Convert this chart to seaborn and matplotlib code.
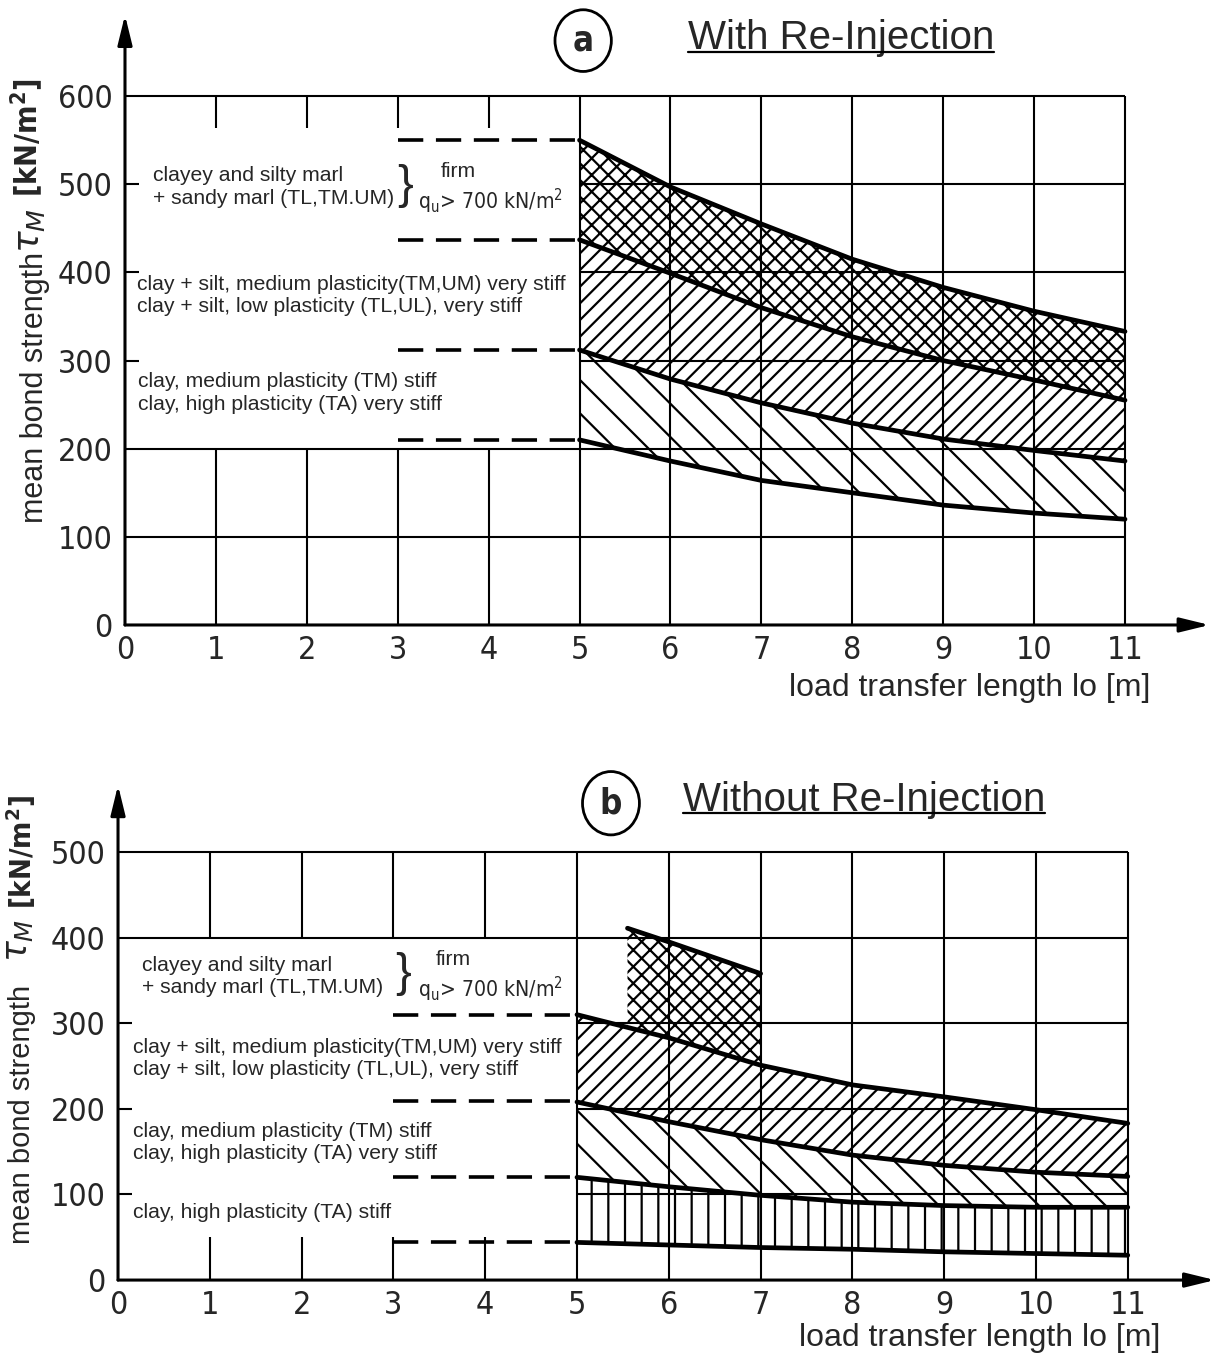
import pandas as pd
import matplotlib
matplotlib.use("Agg")
import matplotlib.pyplot as plt
from matplotlib import font_manager
from matplotlib.font_manager import FontProperties
from matplotlib.patches import Ellipse
from matplotlib.lines import Line2D
import seaborn as sns

# load transfer length lo [m]
lengths = [5, 6, 7, 8, 9, 10, 11]
x_ticks = list(range(12))

# (a) with re-injection, mean bond strength [kN/m2]
a_y_ticks = [0, 100, 200, 300, 400, 500, 600]
a_firm_top = [550, 497, 455, 415, 383, 356, 333]
a_firm_low = [437, 399, 360, 327, 300, 278, 255]
a_stiff_low = [312, 279, 252, 229, 211, 198, 186]
a_clay_low = [210, 186, 164, 150, 136, 127, 120]
a_levels = [550, 437, 312, 210]

# (b) without re-injection
b_y_ticks = [0, 100, 200, 300, 400, 500]
b_firm_lengths = [5.55, 6, 7]
b_firm_top = [411, 395, 358]
b_firm_low = [296, 283, 251]
b_stiff_top = [310, 283, 251, 228, 214, 199, 183]
b_stiff_low = [208, 185, 164, 146, 134, 126, 121]
b_clay_low = [120, 109, 99, 91, 87, 85, 85]
b_soft_low = [44, 41, 38, 36, 33, 31, 29]
b_levels = [310, 209, 120, 44]

marl_text = ["clayey and silty marl", "+ sandy marl (TL,TM.UM)"]
silt_text = ["clay + silt, medium plasticity(TM,UM) very stiff",
             "clay + silt, low plasticity (TL,UL), very stiff"]
clay_text = ["clay, medium plasticity (TM) stiff",
             "clay, high plasticity (TA) very stiff"]
soft_text = "clay, high plasticity (TA) stiff"
firm_text = "firm"
qu_text = r"q$_\mathregular{u}$> 700 kN/m$^\mathregular{2}$"
x_label = "load transfer length lo [m]"

sns.set_style("white")
plt.rcParams["font.family"] = ["Liberation Sans", "DejaVu Sans"]
plt.rcParams["mathtext.fontset"] = "dejavusans"
plt.rcParams["hatch.linewidth"] = 0.8
plt.rcParams["hatch.color"] = "black"


def find_narrow(bold=False):
    """look for a condensed face for the DIN-like digits"""
    wanted = (700, "bold") if bold else (400, "normal", "regular", "book")
    for f in font_manager.fontManager.ttflist:
        tag = f.name + " " + str(f.stretch) + " " + f.fname
        if ("Narrow" in tag or "ondensed" in tag) and f.style == "normal" \
                and f.weight in wanted:
            return f.fname
    return None


narrow_file = find_narrow()
narrow_bold_file = find_narrow(bold=True) or narrow_file
TICK = 11.5 if narrow_file else 9.5


def narrow(size, bold=False):
    path = narrow_bold_file if bold else narrow_file
    if path:
        fp = FontProperties(fname=path)
    else:
        fp = FontProperties(family="DejaVu Sans",
                            weight="bold" if bold else "normal")
    fp.set_size(size)
    return fp


BODY = 7.6
GRID = 0.75
CURVE = 1.7
DASH = (0, (7, 3.5))

fig = plt.figure(figsize=(6.115, 6.78), dpi=200)
ax_a = fig.add_axes([0.1022, 0.5391, 0.892, 0.455])
ax_b = fig.add_axes([0.0965, 0.0560, 0.9007, 0.3788])


def curves(ax, named):
    df = pd.concat([pd.DataFrame({"length": xs, "tau": ys, "curve": k})
                    for k, (xs, ys) in named.items()])
    sns.lineplot(data=df, x="length", y="tau", units="curve", estimator=None,
                 color="black", lw=CURVE, ax=ax, legend=False, zorder=4)


def hatched(ax, xs, low, high, pattern):
    ax.fill_between(xs, low, high, facecolor="none", edgecolor="black",
                    hatch=pattern, lw=0, zorder=2)


def axes_arrows(ax, x_end, y_end):
    style = dict(arrowstyle="-|>,head_length=0.9,head_width=0.22", color="black",
                 lw=1.1, shrinkA=0, shrinkB=0)
    ax.annotate("", xy=(x_end, 0), xytext=(0, 0), arrowprops=style,
                annotation_clip=False, zorder=5)
    ax.annotate("", xy=(0, y_end), xytext=(0, 0), arrowprops=style,
                annotation_clip=False, zorder=5)


def ticks(ax, y_ticks, ylim):
    ax.set_xlim(0, 12)
    ax.set_ylim(*ylim)
    ax.set_xticks(x_ticks)
    ax.set_yticks(y_ticks)
    ax.set_xlabel("")
    ax.set_ylabel("")
    sns.despine(ax=ax, left=True, bottom=True, top=True, right=True)
    ax.tick_params(axis="both", length=0)
    ax.tick_params(axis="x", pad=3.5)
    ax.tick_params(axis="y", pad=4.5)
    for lbl in ax.get_xticklabels() + ax.get_yticklabels():
        lbl.set_fontproperties(narrow(TICK))


def header(ax, cx, cy, w, h, letter, tx, ty, title):
    ax.add_patch(Ellipse((cx, cy), w, h, fill=False, color="black", lw=1.0,
                         clip_on=False))
    ax.text(cx, cy, letter, ha="center", va="center",
            fontproperties=narrow(TICK + 1, bold=True))
    return ax.text(tx, ty, title, ha="left", va="center", fontsize=14.5)


def ylabel(ax, xs, ys, size):
    ax.text(xs[0], ys[0], "mean bond strength", rotation=90, ha="center",
            va="center", fontsize=size)
    ax.text(xs[1], ys[1], r"$\tau_M$", rotation=90, ha="center", va="center",
            fontsize=size + 2)
    ax.text(xs[2], ys[2], r"[kN/m$^\mathregular{2}$]", rotation=90,
            ha="center", va="center", fontproperties=narrow(size, bold=True))


# ---------------- (a) with re-injection ----------------
ax = ax_a
ax.hlines([100, 200, 600], 0, 11, colors="black", lw=GRID, zorder=1)
ax.hlines([300, 400, 500], 5, 11, colors="black", lw=GRID, zorder=1)
ax.hlines([300, 400, 500], 0, 0.15, colors="black", lw=GRID, zorder=1)
ax.vlines(x_ticks[1:5], 0, 200, colors="black", lw=GRID, zorder=1)
ax.vlines(x_ticks[1:5], 564, 600, colors="black", lw=GRID, zorder=1)
ax.vlines(x_ticks[5:], 0, 600, colors="black", lw=GRID, zorder=1)
ax.hlines(a_levels, 3, 5, colors="black", lw=1.3, linestyles=DASH, zorder=3)

hatched(ax, lengths, a_firm_low, a_firm_top, "xxxx")
hatched(ax, lengths, a_stiff_low, a_firm_low, "////")
hatched(ax, lengths, a_clay_low, a_stiff_low, "\\\\")
curves(ax, {"firm top": (lengths, a_firm_top), "firm low": (lengths, a_firm_low),
            "stiff low": (lengths, a_stiff_low), "clay low": (lengths, a_clay_low)})
ticks(ax, a_y_ticks, (0, 700))
axes_arrows(ax, 11.93, 692)

ax.text(0.31, 510, marl_text[0], fontsize=BODY, va="center")
ax.text(0.31, 484, marl_text[1], fontsize=BODY, va="center")
ax.text(3.08, 498, "}", fontsize=17, va="center", ha="center")
ax.text(3.47, 514, firm_text, fontsize=BODY, va="center")
ax.text(3.22, 481, qu_text, va="center", fontproperties=narrow(7.6))
ax.text(0.13, 386, silt_text[0], fontsize=BODY, va="center")
ax.text(0.13, 361, silt_text[1], fontsize=BODY, va="center")
ax.text(0.14, 276, clay_text[0], fontsize=BODY, va="center")
ax.text(0.14, 250, clay_text[1], fontsize=BODY, va="center")
ax.text(11.28, -71, x_label, fontsize=11.5, ha="right", va="center")
title_a = header(ax, 5.04, 663, 0.62, 70, "a", 6.19, 666, "With Re-Injection")
ylabel(ax, (-0.99, -1.05, -1.07), (269, 447, 553), 11)

# ---------------- (b) without re-injection ----------------
ax = ax_b
ax.hlines([400, 500], 0, 11, colors="black", lw=GRID, zorder=1)
ax.hlines([100, 200, 300], 5, 11, colors="black", lw=GRID, zorder=1)
ax.hlines([100, 200, 300], 0, 0.15, colors="black", lw=GRID, zorder=1)
ax.vlines(x_ticks[1:5], 0, 50, colors="black", lw=GRID, zorder=1)
ax.vlines(x_ticks[1:5], 400, 500, colors="black", lw=GRID, zorder=1)
ax.vlines(x_ticks[5:], 0, 500, colors="black", lw=GRID, zorder=1)
ax.hlines(b_levels, 3, 5, colors="black", lw=1.3, linestyles=DASH, zorder=3)

hatched(ax, b_firm_lengths, b_firm_low, b_firm_top, "xxxx")
hatched(ax, lengths, b_stiff_low, b_stiff_top, "////")
hatched(ax, lengths, b_clay_low, b_stiff_low, "\\\\")
hatched(ax, lengths, b_soft_low, b_clay_low, "||")
curves(ax, {"firm top": (b_firm_lengths, b_firm_top),
            "stiff top": (lengths, b_stiff_top), "stiff low": (lengths, b_stiff_low),
            "clay low": (lengths, b_clay_low), "soft low": (lengths, b_soft_low)})
ticks(ax, b_y_ticks, (0, 600))
axes_arrows(ax, 11.95, 578)

ax.text(0.26, 368, marl_text[0], fontsize=BODY, va="center")
ax.text(0.26, 342, marl_text[1], fontsize=BODY, va="center")
ax.text(3.1, 357, "}", fontsize=17, va="center", ha="center")
ax.text(3.46, 374, firm_text, fontsize=BODY, va="center")
ax.text(3.27, 339, qu_text, va="center", fontproperties=narrow(7.6))
ax.text(0.16, 272, silt_text[0], fontsize=BODY, va="center")
ax.text(0.16, 246, silt_text[1], fontsize=BODY, va="center")
ax.text(0.16, 174, clay_text[0], fontsize=BODY, va="center")
ax.text(0.16, 148, clay_text[1], fontsize=BODY, va="center")
ax.text(0.16, 79, soft_text, fontsize=BODY, va="center")
ax.text(11.35, -68, x_label, fontsize=11.5, ha="right", va="center")
title_b = header(ax, 5.37, 557, 0.62, 74, "b", 6.15, 561, "Without Re-Injection")
ylabel(ax, (-1.05, -1.08, -1.06), (193, 397, 500), 10.5)

# underline the two titles
fig.canvas.draw()
renderer = fig.canvas.get_renderer()
for t in (title_a, title_b):
    bb = t.get_window_extent(renderer).transformed(fig.transFigure.inverted())
    yy = bb.y0 + 0.14 * bb.height
    fig.add_artist(Line2D([bb.x0, bb.x1], [yy, yy], color="black", lw=0.8))

fig.savefig("out.png", dpi=200)
